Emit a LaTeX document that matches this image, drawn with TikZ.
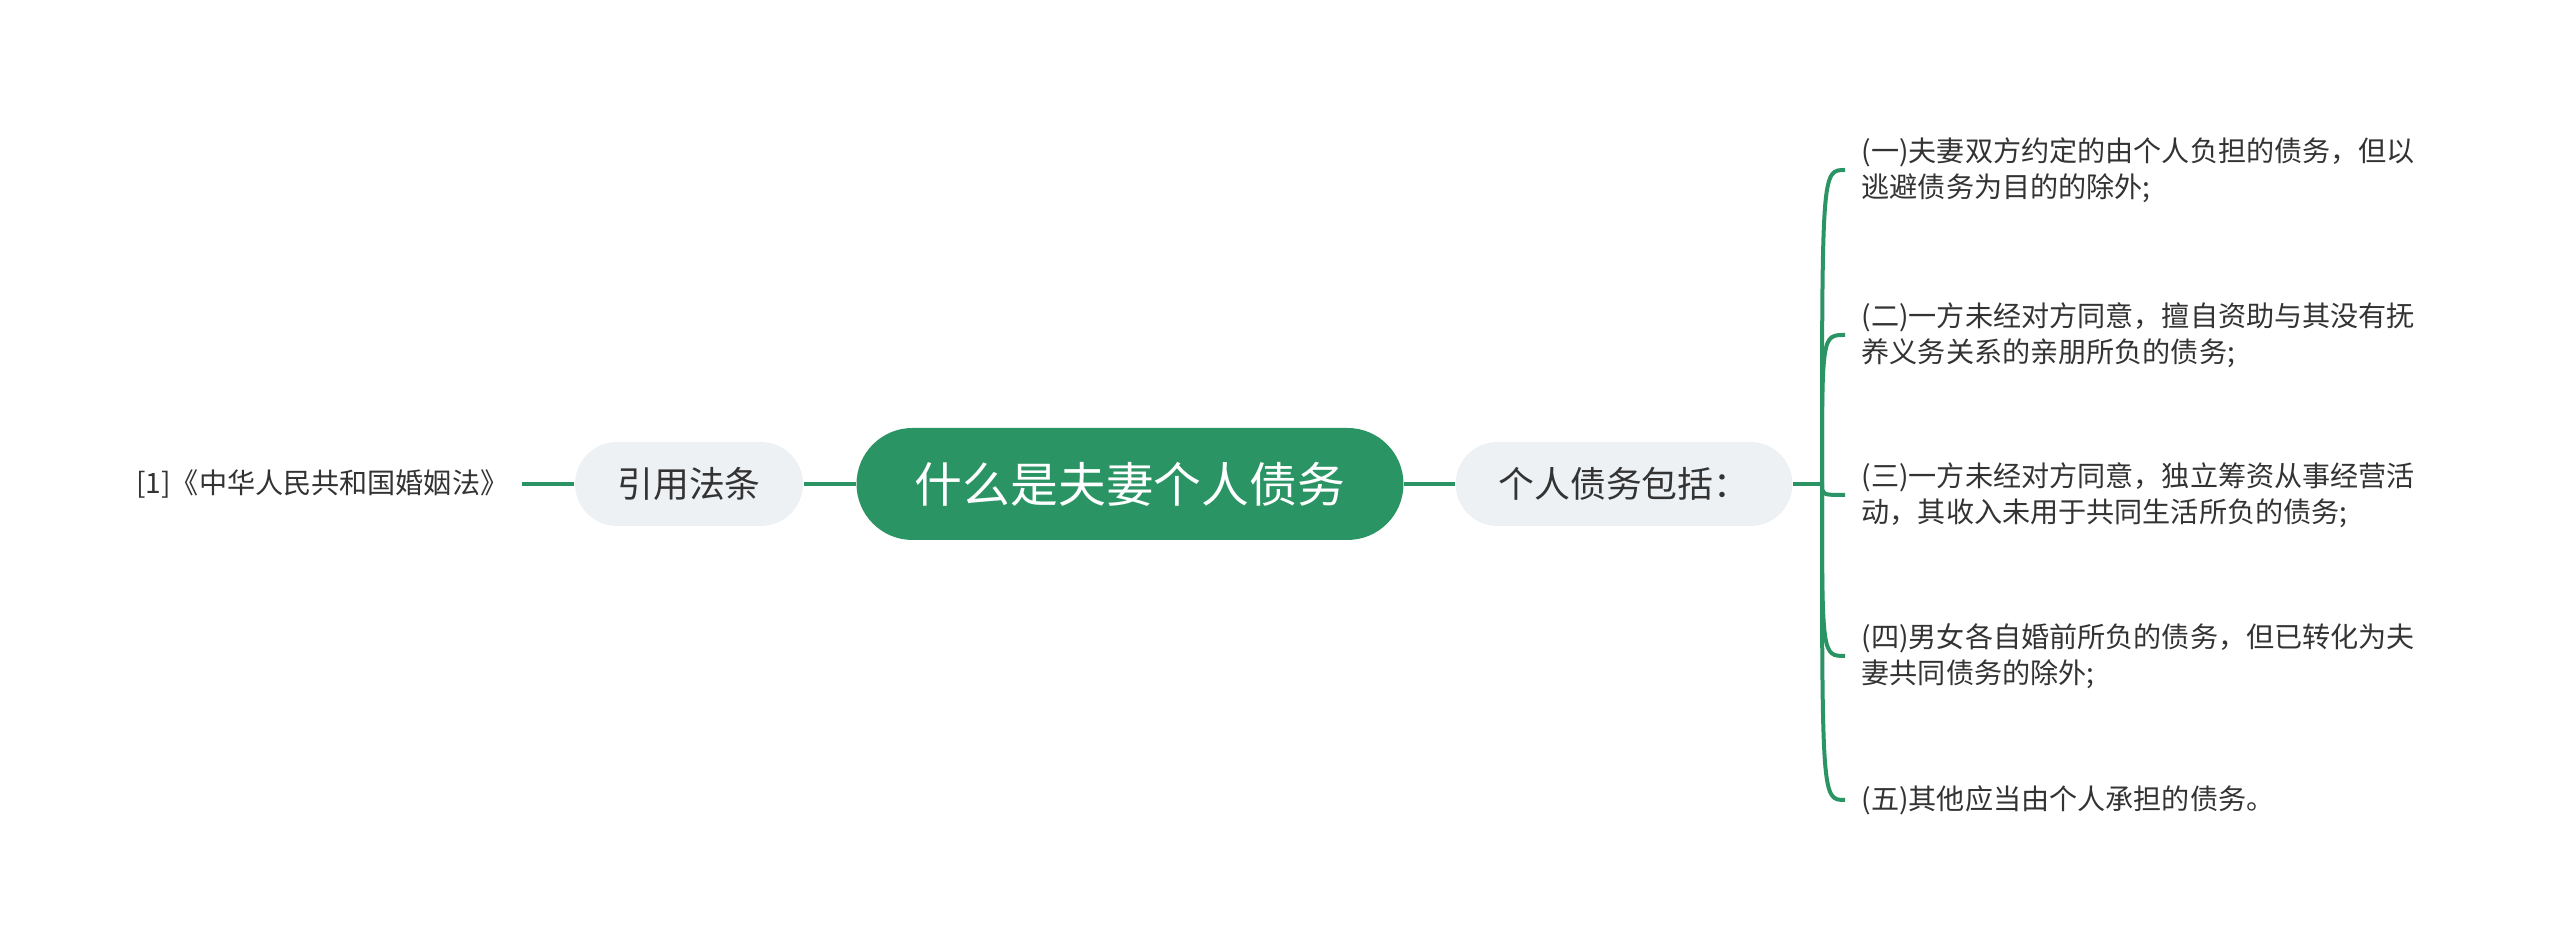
\documentclass[tikz,border=0pt]{standalone}
\usepackage{fontspec}
\setmainfont{Noto Sans CJK SC}
\usetikzlibrary{calc}
\definecolor{color_root_bg}{HTML}{2B9464}
\definecolor{color_topic_bg}{HTML}{EEF1F4}
\definecolor{color_branch}{HTML}{2B9464}
\definecolor{color_text}{HTML}{333333}
\def\branchlinewidth{0.4mm}
\def\leafx{1845}
\def\leaffont{\fontsize{8}{10.3}\selectfont}

\begin{document}
\begin{tikzpicture}[x=0.1mm,y=0.1mm,
    rootbox/.style={fill=color_root_bg, text=white, rounded corners=5.6mm,
        minimum width=54.7mm, minimum height=11.2mm, inner sep=0,
        font=\fontsize{13.6}{16}\selectfont},
    topicbox/.style={fill=color_topic_bg, text=color_text, rounded corners=4.2mm,
        minimum height=8.4mm, inner sep=0, font=\fontsize{10.2}{12}\selectfont},
    leaftext/.style={text=color_text, align=left, anchor=west,
        inner xsep=1.6mm, inner ysep=0, font=\leaffont},
    branch/.style={draw=color_branch, line width=\branchlinewidth}]
        \useasboundingbox (0,0) rectangle (2560,950);
        % main topics
        \node[rootbox] (root) at (1130,466) {什么是夫妻个人债务};
        \node[topicbox, minimum width=33.7mm] (debts) at (1624,466) {个人债务包括：};
        \node[topicbox, minimum width=22.8mm] (cite) at (689,466) {引用法条};
        \node[leaftext, anchor=east, inner xsep=1.3mm] (law) at (522,466) {[1]《中华人民共和国婚姻法》};
        \draw[branch] (cite.east) -- (root.west);
        \draw[branch] (root.east) -- (debts.west);
        \draw[branch] (law.east) -- (cite.west);
        % fork of the right side
        \coordinate (fork) at (1822,466);
        \draw[branch] (debts.east) -- (fork);
        \foreach \y/\name/\txt in {
            780/leafa/{(一)夫妻双方约定的由个人负担的债务，但以\\逃避债务为目的的除外;},
            615/leafb/{(二)一方未经对方同意，擅自资助与其没有抚\\养义务关系的亲朋所负的债务;},
            455/leafc/{(三)一方未经对方同意，独立筹资从事经营活\\动，其收入未用于共同生活所负的债务;},
            294/leafd/{(四)男女各自婚前所负的债务，但已转化为夫\\妻共同债务的除外;},
            150/leafe/{(五)其他应当由个人承担的债务。}}
        {
            \node[leaftext] (\name) at (\leafx,\y) {\txt};
            \draw[branch] (fork) .. controls (fork |- \name.west) .. (\name.west);
        }
\end{tikzpicture}
\end{document}
